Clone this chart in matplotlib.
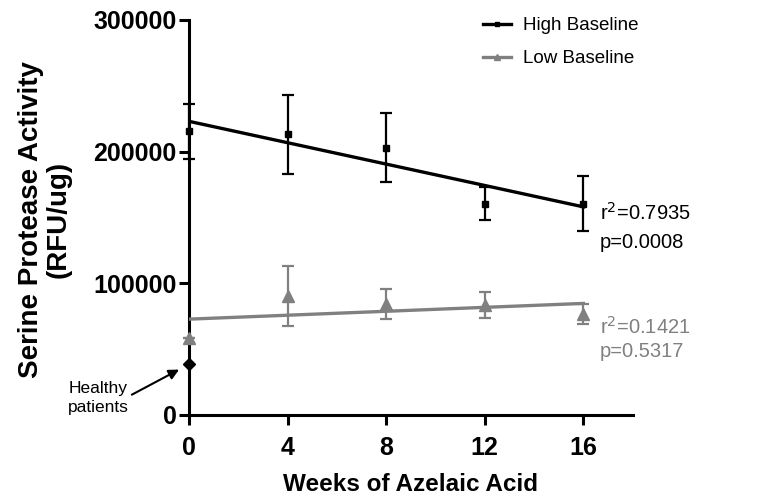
import numpy as np
import matplotlib
matplotlib.use('Agg')
import matplotlib.pyplot as plt

plt.rcParams['font.family'] = ['Liberation Sans', 'DejaVu Sans']

# data
weeks = [0, 4, 8, 12, 16]
high_mean = [215300, 213300, 203000, 160500, 160500]
high_err = [21200, 30000, 26400, 12700, 20600]
low_mean = [58500, 90500, 84200, 83750, 76800]
low_err = [0, 23000, 11400, 9750, 7600]
healthy = 38800
high_stats = ['r$^2$=0.7935', 'p=0.0008']
low_stats = ['r$^2$=0.1421', 'p=0.5317']

black = '#000000'
grey = '#808080'

fig = plt.figure(figsize=(7.66, 4.98), dpi=100)
ax = fig.add_axes([0.2467, 0.1667, 0.5793, 0.7933])

x = np.array(weeks)
fit_x = np.array([0, 16])
for mean, err, col, mk, ms, lab in [
        (high_mean, high_err, black, 's', 5, 'High Baseline'),
        (low_mean, low_err, grey, '^', 8, 'Low Baseline')]:
    ax.errorbar(x, mean, yerr=err, fmt='none', ecolor=col, elinewidth=1.6,
                capsize=4, capthick=1.6, clip_on=False, zorder=3)
    ax.plot(x, mean, linestyle='none', marker=mk, ms=ms, color=col,
            clip_on=False, zorder=4)
    slope, icpt = np.polyfit(x, mean, 1)
    ax.plot(fit_x, slope * fit_x + icpt, color=col, lw=2.4, zorder=3)
    # legend proxy
    ax.plot([], [], color=col, lw=2.4, marker=mk, ms=ms * 0.6, label=lab)

ax.plot([0], [healthy], marker='D', ms=6.5, color=black, linestyle='none',
        clip_on=False, zorder=5)

ax.set_xlim(0, 18)
ax.set_ylim(0, 300000)
ax.set_xticks(weeks)
ax.set_yticks([0, 100000, 200000, 300000])
ax.set_yticklabels(['0', '100000', '200000', '300000'])
for s in ['top', 'right']:
    ax.spines[s].set_visible(False)
for s in ['left', 'bottom']:
    ax.spines[s].set_linewidth(2.2)
ax.tick_params(width=2.2, length=7, labelsize=18)
ax.tick_params(axis='x', pad=8)
ax.tick_params(axis='y', pad=2)
for t in ax.get_xticklabels() + ax.get_yticklabels():
    t.set_fontweight('bold')

ax.set_xlabel('Weeks of Azelaic Acid', fontsize=17.5, fontweight='bold')
ax.xaxis.set_label_coords(0.5, -0.148)
ax.set_ylabel('Serine Protease Activity\n(RFU/ug)', fontsize=20,
              fontweight='bold', linespacing=1.05)
ax.yaxis.set_label_coords(-0.265, 0.495)

leg = ax.legend(loc='upper right', bbox_to_anchor=(1.05, 1.05), frameon=False,
                fontsize=13.5, handlelength=1.5, handletextpad=0.6,
                labelspacing=0.85)

ax.text(16.66, 153600, high_stats[0], fontsize=14.5, color=black, va='center')
ax.text(16.66, 130800, high_stats[1], fontsize=14.5, color=black, va='center')
ax.text(16.66, 66900, low_stats[0], fontsize=14.5, color=grey, va='center')
ax.text(16.66, 47900, low_stats[1], fontsize=14.5, color=grey, va='center')

ax.annotate('Healthy\npatients', xy=(-0.4, 34500), xytext=(-4.9, 13000),
            fontsize=12.5, va='center', ha='left', linespacing=1.3,
            annotation_clip=False,
            arrowprops=dict(arrowstyle='-|>', color=black, lw=1.5,
                            mutation_scale=15, shrinkA=0, shrinkB=0,
                            relpos=(1.0, 0.55)))

fig.savefig('out.png', dpi=100)
